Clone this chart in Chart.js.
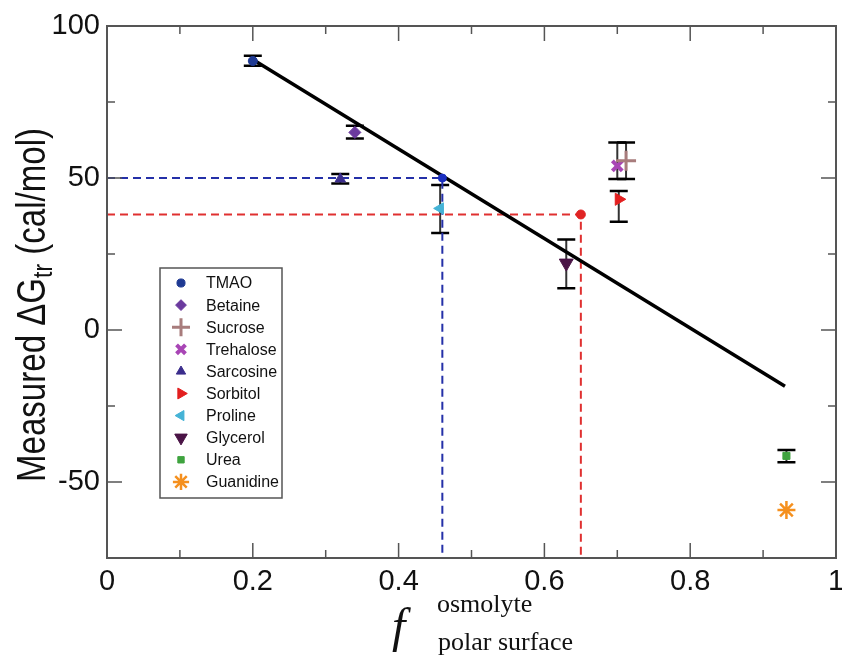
<!DOCTYPE html>
<html><head><meta charset="utf-8">
<script src="https://cdn.jsdelivr.net/npm/chart.js@4.4.1/dist/chart.umd.min.js"></script>
<style>html,body{margin:0;padding:0;background:#fff;overflow:hidden}#wrap{width:842px;height:659px;overflow:hidden;position:relative}canvas{display:block}</style>
</head><body><div id="wrap"><canvas id="c" width="862" height="659"></canvas></div>
<script>
// ---- data ----
const categories = ['TMAO','Betaine','Sucrose','Trehalose','Sarcosine','Sorbitol','Proline','Glycerol','Urea','Guanidine'];
const fPolarSurface = [0.200,0.340,0.712,0.700,0.320,0.702,0.457,0.630,0.932,0.932];
const measuredDG = [88.5,65.0,55.7,54.0,49.7,43.0,40.0,22.0,-41.4,-59.2];
const errorLow  = [86.9,63.0,49.7,49.7,48.2,35.6,31.9,13.7,-43.5,null];
const errorHigh = [90.2,67.2,61.7,61.7,51.3,45.7,47.7,29.8,-39.5,null];
const fitX = [0.200,0.930];
const fitY = [89.0,-18.5];
const blueGuideX = [0,0.46,0.46];
const blueGuideY = [50,50,-75];
const redGuideX = [0,0.65,0.65];
const redGuideY = [38,38,-75];
const xTicks = [0,0.2,0.4,0.6,0.8,1];
const xTickLabels = ['0','0.2','0.4','0.6','0.8','1'];
const yTicks = [-50,0,50,100];
const yTickLabels = ['-50','0','50','100'];

// ---- styles ----
const colors = ['#1f3a93','#6b3a9e','#a87c7c','#a845b5','#3b2d8c','#e31f1f','#45b3d6','#4a1446','#3fa33f','#f5901e'];
const marker = [
 {s:'circle',r:4.5,rot:0,bw:1},
 {s:'rectRot',r:6,rot:0,bw:1},
 {s:'cross',r:10,rot:0,bw:3},
 {s:'crossRot',r:7,rot:0,bw:4},
 {s:'triangle',r:6,rot:0,bw:1},
 {s:'triangle',r:7,rot:90,bw:1},
 {s:'triangle',r:6.5,rot:-90,bw:1},
 {s:'triangle',r:8,rot:180,bw:1},
 {s:'rect',r:5,rot:0,bw:1},
 {s:'star',r:9,rot:0,bw:2.5}
];
const FONT = "'Liberation Sans', Arial, sans-serif";
const SERIF = "'Liberation Serif', 'Times New Roman', serif";
Chart.defaults.font.family = FONT;

const pts = categories.map((c,i)=>({
  label:c, type:'scatter', order:0,
  data:[{x:fPolarSurface[i], y:measuredDG[i]}],
  pointStyle:marker[i].s, pointRadius:marker[i].r, pointRotation:marker[i].rot,
  pointBorderWidth:marker[i].bw, backgroundColor:colors[i], borderColor:colors[i],
  pointHoverRadius:marker[i].r
}));
const toXY = (xs,ys)=>xs.map((v,i)=>({x:v,y:ys[i]}));
const datasets = pts.concat([
 {label:'blueDot', type:'scatter', order:0, data:[{x:blueGuideX[1],y:blueGuideY[1]}], pointRadius:4, backgroundColor:'#1b2fc0', borderColor:'#1b2fc0'},
 {label:'redDot', type:'scatter', order:0, data:[{x:redGuideX[1],y:redGuideY[1]}], pointRadius:4.5, backgroundColor:'#e02424', borderColor:'#e02424'},
 {label:'fit', type:'line', order:1, data:toXY(fitX,fitY), borderColor:'#000', borderWidth:3.5, pointRadius:0, fill:false},
 {label:'blueGuide', type:'line', order:2, data:toXY(blueGuideX,blueGuideY), borderColor:'#2430a8', borderWidth:2, borderDash:[8,5], pointRadius:0, fill:false},
 {label:'redGuide', type:'line', order:2, data:toXY(redGuideX,redGuideY), borderColor:'#e03030', borderWidth:2, borderDash:[8,5], pointRadius:0, fill:false}
]);

const errorBars = {
 id:'errorBars',
 beforeDatasetsDraw(chart){
  const {ctx, scales:{x,y}} = chart;
  ctx.save();
  categories.forEach((c,i)=>{
   if(errorLow[i]==null) return;
   const px = x.getPixelForValue(fPolarSurface[i]);
   const lo = y.getPixelForValue(errorLow[i]), hi = y.getPixelForValue(errorHigh[i]);
   ctx.strokeStyle='#333'; ctx.lineWidth=2;
   ctx.beginPath(); ctx.moveTo(px,lo); ctx.lineTo(px,hi); ctx.stroke();
   ctx.strokeStyle='#000'; ctx.lineWidth=2.5;
   ctx.beginPath(); ctx.moveTo(px-9,lo); ctx.lineTo(px+9,lo); ctx.moveTo(px-9,hi); ctx.lineTo(px+9,hi); ctx.stroke();
  });
  ctx.restore();
 }
};

const frame = {
 id:'frame',
 afterDraw(chart){
  const {ctx, chartArea:a, scales:{x,y}} = chart;
  ctx.save();
  ctx.strokeStyle='#555'; ctx.lineWidth=1.5;
  const L=(x1,y1,x2,y2)=>{ctx.beginPath();ctx.moveTo(x1,y1);ctx.lineTo(x2,y2);ctx.stroke();};
  for(let k=1;k<10;k++){
   const px = x.getPixelForValue(k/10); const len = k%2===0?15:8;
   L(px,a.bottom,px,a.bottom-len); L(px,a.top,px,a.top+len);
  }
  for(let k=-2;k<=3;k++){
   const py = y.getPixelForValue(k*25); const len = k%2===0?15:8;
   L(a.left,py,a.left+len,py); L(a.right,py,a.right-len,py);
  }
  ctx.lineWidth=2;
  ctx.strokeRect(a.left,a.top,a.right-a.left,a.bottom-a.top);
  ctx.restore();
 }
};

const legendBox = {
 id:'legendBox',
 afterDraw(chart){
  const {ctx} = chart;
  ctx.save();
  ctx.fillStyle='#fff'; ctx.fillRect(160,268,122,230);
  ctx.strokeStyle='#555'; ctx.lineWidth=1.5; ctx.strokeRect(160,268,122,230);
  categories.forEach((c,i)=>{
   const yy = 283 + i*22.1;
   ctx.fillStyle=colors[i]; ctx.strokeStyle=colors[i]; ctx.lineWidth=marker[i].bw;
   Chart.helpers.drawPoint(ctx,{pointStyle:marker[i].s, rotation:marker[i].rot, radius:marker[i].r*0.9, borderWidth:marker[i].bw}, 181, yy);
   ctx.fillStyle='#111'; ctx.font='16px '+FONT; ctx.textBaseline='middle'; ctx.textAlign='left';
   ctx.fillText(c, 206, yy+1);
  });
  ctx.restore();
 }
};

const titles = {
 id:'titles',
 afterDraw(chart){
  const {ctx} = chart;
  ctx.save();
  // y title
  const F = 33, target = 354, stretch = 1.22;
  const p1='Measured \u0394G', sub='tr', p2=' (cal/mol)';
  ctx.font = F+'px '+FONT; const w1 = ctx.measureText(p1).width, w3 = ctx.measureText(p2).width;
  ctx.font = Math.round(F*0.7)+'px '+FONT; const w2 = ctx.measureText(sub).width;
  const total = w1+w2+w3;
  const k = target/total;
  ctx.translate(45, 305); ctx.rotate(-Math.PI/2); ctx.scale(k, stretch);
  ctx.fillStyle='#111'; ctx.textBaseline='alphabetic'; ctx.textAlign='left';
  let sx = -total/2;
  ctx.font = F+'px '+FONT; ctx.fillText(p1, sx, 0); sx+=w1;
  ctx.font = Math.round(F*0.7)+'px '+FONT; ctx.fillText(sub, sx, 6); sx+=w2;
  ctx.font = F+'px '+FONT; ctx.fillText(p2, sx, 0);
  ctx.restore();
  // x title
  ctx.save();
  ctx.fillStyle='#111'; ctx.textBaseline='alphabetic'; ctx.textAlign='left';
  ctx.font = 'italic 48px '+SERIF; ctx.fillText('f', 392, 642);
  ctx.font = '26px '+SERIF; ctx.fillText('osmolyte', 437, 612);
  ctx.fillText('polar surface', 438, 650);
  ctx.restore();
 }
};

new Chart(document.getElementById('c'), {
 type:'scatter',
 data:{datasets},
 options:{
  responsive:false, animation:false,
  layout:{padding:{top:26,right:26,left:0,bottom:0}},
  plugins:{legend:{display:false}, tooltip:{enabled:false}},
  scales:{
   x:{type:'linear', min:0, max:1,
      grid:{display:false, drawTicks:false}, border:{display:false},
      ticks:{color:'#111', font:{size:29}, padding:7, maxRotation:0, autoSkip:false, callback:(v)=>{const i=xTicks.indexOf(Math.round(v*10)/10);return i<0?'':xTickLabels[i];}},
      afterBuildTicks:(s)=>{s.ticks = xTicks.map(v=>({value:v}));},
      afterFit:(s)=>{s.height=101;}
   },
   y:{type:'linear', min:-75, max:100,
      grid:{display:false, drawTicks:false}, border:{display:false},
      ticks:{color:'#111', font:{size:29}, padding:7, autoSkip:false, callback:(v)=>{const i=yTicks.indexOf(v);return i<0?'':yTickLabels[i];}},
      afterBuildTicks:(s)=>{s.ticks = yTicks.map(v=>({value:v}));},
      afterFit:(s)=>{s.width=107;}
   }
  }
 },
 plugins:[errorBars, frame, legendBox, titles]
});
</script></body></html>
